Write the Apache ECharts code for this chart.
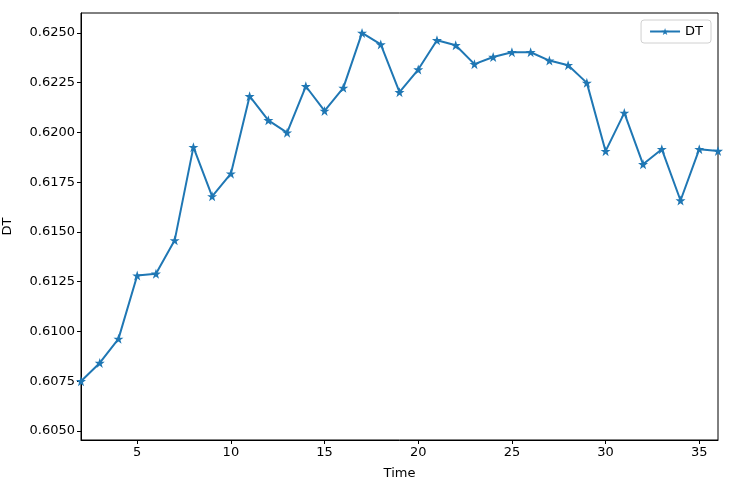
<!DOCTYPE html>
<html><head><meta charset="utf-8">
<script src="https://cdn.jsdelivr.net/npm/echarts@6/dist/echarts.min.js"></script>
<style>html,body{margin:0;padding:0;background:#fff}#c{width:729px;height:488px}</style>
</head><body><div id="c"></div>
<script>
var timeValues = [2,3,4,5,6,7,8,9,10,11,12,13,14,15,16,17,18,19,20,21,22,23,24,25,26,27,28,29,30,31,32,33,34,35,36];
var dtValues = [0.60750,0.60842,0.60963,0.61281,0.61290,0.61458,0.61926,0.61679,0.61793,0.62182,0.62061,0.61999,0.62232,0.62108,0.62224,0.62500,0.62442,0.62202,0.62316,0.62463,0.62438,0.62343,0.62379,0.62403,0.62403,0.62361,0.62338,0.62249,0.61906,0.62098,0.61840,0.61916,0.61658,0.61916,0.61907];
var xTicks = [5,10,15,20,25,30,35];
var yTicks = [0.6050,0.6075,0.6100,0.6125,0.6150,0.6175,0.6200,0.6225,0.6250];

var star = 'path://M50,0 L61.8,34.5 L97.6,34.5 L68.6,55.9 L79.4,90.5 L50,69.1 L20.6,90.5 L31.4,55.9 L2.4,34.5 L38.2,34.5 Z';
var font = 'DejaVu Sans';
var chart = echarts.init(document.getElementById('c'));
chart.setOption({
  animation: false,
  textStyle: {fontFamily: font},
  grid: {left: 81, right: 11, top: 13, bottom: 48, containLabel: false, outerBoundsMode: 'none',
    show: true, borderColor: '#000', borderWidth: 1, backgroundColor: 'transparent'},
  legend: {
    right: 18, top: 20, orient: 'vertical',
    data: [{name: 'DT'}],
    itemWidth: 30, itemHeight: 9,
    textStyle: {fontFamily: font, fontSize: 13, color: '#000'},
    borderColor: '#d0d0d0', borderWidth: 1, borderRadius: 3,
    padding: [5, 8, 5, 8], itemGap: 5
  },
  xAxis: {
    type: 'value', min: 2, max: 36,
    name: 'Time', nameLocation: 'middle', nameGap: 27,
    nameTextStyle: {fontFamily: font, fontSize: 13, color: '#000'},
    axisLine: {onZero: false, lineStyle: {color: '#000', width: 1}},
    axisTick: {show: true, length: 4, inside: false, customValues: xTicks, lineStyle: {color: '#000'}},
    axisLabel: {customValues: xTicks, fontFamily: font, fontSize: 13, color: '#000', margin: 6},
    splitLine: {show: false}
  },
  yAxis: {
    type: 'value', min: 0.60455, max: 0.62600,
    name: 'DT', nameLocation: 'middle', nameGap: 67, nameRotate: 90,
    nameTextStyle: {fontFamily: font, fontSize: 13, color: '#000'},
    axisLine: {show: true, onZero: false, lineStyle: {color: '#000', width: 1}},
    axisTick: {show: true, length: 4, customValues: yTicks, lineStyle: {color: '#000'}},
    axisLabel: {customValues: yTicks, fontFamily: font, fontSize: 13, color: '#000', margin: 6,
      formatter: function(v){return v.toFixed(4);}},
    splitLine: {show: false}
  },
  series: [{
    name: 'DT', type: 'line',
    data: timeValues.map(function(t,i){return [t, dtValues[i]];}),
    symbol: star, symbolSize: 10, showAllSymbol: true,
    lineStyle: {color: '#1f77b4', width: 2},
    itemStyle: {color: '#1f77b4'},
    clip: true
  }]
});
</script></body></html>
